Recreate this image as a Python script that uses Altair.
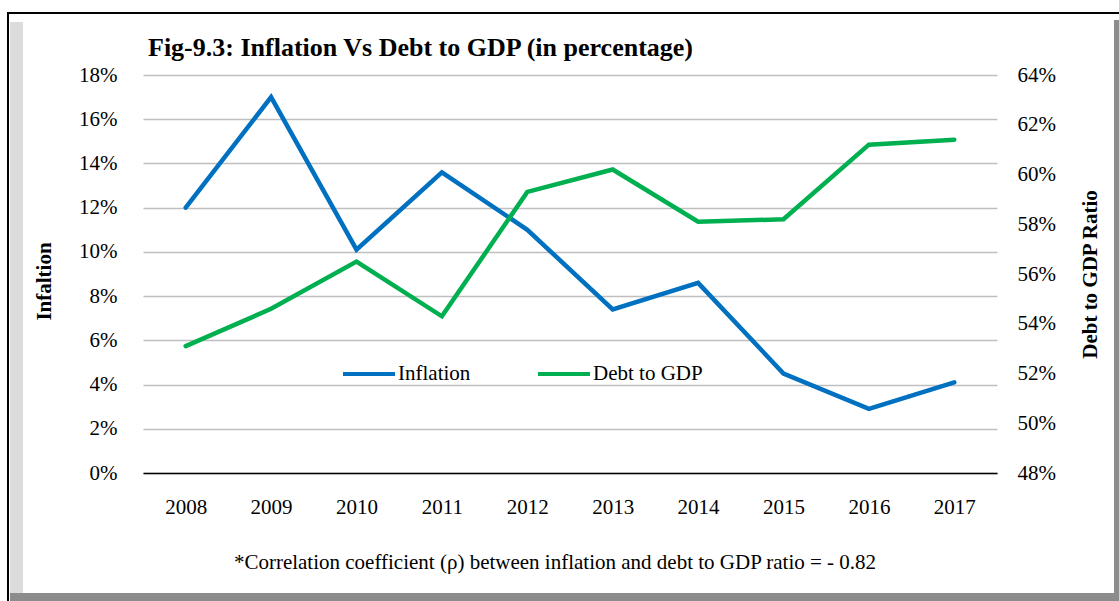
import altair as alt
import pandas as pd

years = ["2008", "2009", "2010", "2011", "2012", "2013", "2014", "2015", "2016", "2017"]
inflation = [12.0, 17.0, 10.1, 13.6, 11.0, 7.4, 8.6, 4.5, 2.9, 4.1]
debt_to_gdp = [53.1, 54.6, 56.5, 54.3, 59.3, 60.2, 58.1, 58.2, 61.2, 61.4]
series_names = ["Inflation", "Debt to GDP"]
series_colors = ["#0070C0", "#00B050"]
left_ticks = [0, 2, 4, 6, 8, 10, 12, 14, 16, 18]
right_ticks = [48, 50, 52, 54, 56, 58, 60, 62, 64]

title_text = "Fig-9.3: Inflation Vs Debt to GDP (in percentage)"
footnote_text = "*Correlation coefficient (\u03c1) between inflation and debt to GDP ratio = - 0.82"

FONT = "Liberation Serif"
W, H = 854, 398
PL, PT = 143, 75

df = pd.DataFrame(
    {"Year": years * 2,
     "Value": inflation + debt_to_gdp,
     "Series": [series_names[0]] * len(years) + [series_names[1]] * len(years)}
)

color = alt.Color(
    "Series:N",
    scale=alt.Scale(domain=series_names, range=series_colors),
    legend=alt.Legend(
        title=None, orient="none", direction="horizontal",
        legendX=198, legendY=271,
        symbolType="stroke", symbolSize=2704, symbolStrokeWidth=4,
        labelFont=FONT, labelFontSize=21, labelColor="black",
        labelOffset=1, columnPadding=59, padding=0,
    ),
)

xenc = alt.X(
    "Year:O", sort=years,
    scale=alt.Scale(type="point", padding=0.5),
    axis=alt.Axis(title=None, labelAngle=0, ticks=False, tickSize=0,
                  labelPadding=23, domainColor="black", domainWidth=1.5,
                  labelFont=FONT, labelFontSize=21, labelColor="black", grid=False),
)

infl = alt.Chart(df).transform_filter(alt.datum.Series == "Inflation").mark_line(
    strokeWidth=4.5, strokeCap="round"
).encode(
    x=xenc,
    y=alt.Y("Value:Q", scale=alt.Scale(domain=[0, 18], nice=False),
            axis=alt.Axis(title="Infaltion", values=left_ticks, labelExpr="datum.value + '%'",
                          ticks=False, tickSize=0, domain=False, labelPadding=26,
                          labelFont=FONT, labelFontSize=21, labelColor="black",
                          titleFont=FONT, titleFontSize=21, titleFontWeight="bold",
                          titleColor="black", titlePadding=24, titleY=206,
                          grid=True, gridColor="#BFBFBF", gridWidth=1.5)),
    color=color,
)

debt = alt.Chart(df).transform_filter(alt.datum.Series == "Debt to GDP").mark_line(
    strokeWidth=4.5, strokeCap="round"
).encode(
    x=xenc,
    y=alt.Y("Value:Q", scale=alt.Scale(domain=[48, 64], nice=False),
            axis=alt.Axis(orient="right", title="Debt to GDP Ratio", values=right_ticks,
                          labelExpr="datum.value + '%'",
                          ticks=False, tickSize=0, domain=False, labelPadding=20,
                          labelFont=FONT, labelFontSize=21, labelColor="black",
                          titleFont=FONT, titleFontSize=21, titleFontWeight="bold",
                          titleColor="black", titlePadding=45, titleAngle=270,
                          grid=False)),
    color=color,
)

one = alt.Data(values=[{}])

def box(x1, x2, y1, y2, fill):
    return alt.Chart(one).mark_rect(color=fill).encode(
        x=alt.value(x1 - PL), x2=alt.value(x2 - PL),
        y=alt.value(y1 - PT), y2=alt.value(y2 - PT))

frame = [
    box(7, 1119, 12, 14, "black"),
    box(7, 9, 12, 601, "black"),
    box(10, 23, 22, 593, "#DCDCDC"),
    box(1114, 1119, 20, 601, "#8C8C8C"),
    box(10, 1119, 593, 601, "#8C8C8C"),
]

title = alt.Chart(one).mark_text(
    text=title_text, font=FONT, fontSize=26, fontWeight="bold", color="black",
    align="left", baseline="alphabetic"
).encode(x=alt.value(148 - PL), y=alt.value(56 - PT))

footnote = alt.Chart(one).mark_text(
    text=footnote_text, font=FONT, fontSize=21, color="black",
    align="center", baseline="alphabetic"
).encode(x=alt.value(555 - PL), y=alt.value(569 - PT))

chart = alt.layer(*frame, title, footnote, infl, debt).resolve_scale(
    y="independent"
).properties(
    width=W, height=H,
    padding={"left": PL, "top": PT, "right": 1119 - PL - W, "bottom": 601 - PT - H},
    autosize=alt.AutoSizeParams(type="none"),
    background="white",
).configure_view(stroke=None)

chart.save("out.html", embed_options={"renderer": "svg", "actions": False})
